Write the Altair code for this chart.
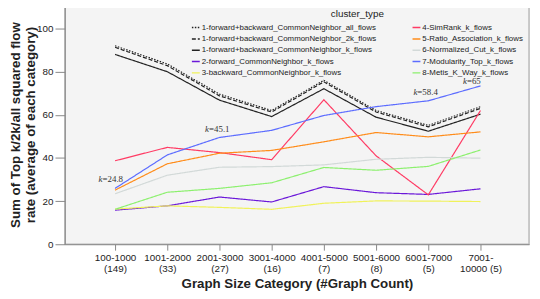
import json
import altair as alt
import pandas as pd

categories = [["100-1000", "(149)"], ["1001-2000", "(33)"], ["2001-3000", "(27)"],
              ["3001-4000", "(16)"], ["4001-5000", "(7)"], ["5001-6000", "(8)"],
              ["6001-7000", "(5)"], ["7001-", "10000 (5)"]]

series = [
    "1-forward+backward_CommonNeighbor_all_flows",
    "1-forward+backward_CommonNeighbor_2k_flows",
    "1-forward+backward_CommonNeighbor_k_flows",
    "2-forward_CommonNeighbor_k_flows",
    "3-backward_CommonNeighbor_k_flows",
    "4-SimRank_k_flows",
    "5-Ratio_Association_k_flows",
    "6-Normalized_Cut_k_flows",
    "7-Modularity_Top_k_flows",
    "8-Metis_K_Way_k_flows",
]

v_all = [92.0, 83.6, 69.6, 62.0, 76.0, 62.0, 55.1, 63.8]
v_2k = [91.3, 82.8, 68.8, 61.3, 75.3, 61.3, 54.4, 63.0]
v_k = [88.0, 80.0, 66.8, 59.2, 72.1, 58.9, 52.4, 60.3]
v_forward = [15.8, 17.8, 21.9, 19.6, 26.7, 23.9, 23.1, 25.7]
v_backward = [16.3, 17.8, 17.1, 16.2, 19.0, 20.1, 20.0, 19.8]
v_simrank = [38.7, 44.9, 42.5, 39.2, 67.0, 41.0, 22.9, 62.0]
v_ratio = [25.1, 37.3, 42.2, 43.5, 47.5, 51.8, 49.8, 52.1]
v_ncut = [23.4, 32.0, 35.7, 36.0, 36.8, 39.4, 40.3, 39.9]
v_modularity = [25.9, 41.4, 49.5, 52.8, 59.7, 63.8, 66.5, 73.4]
v_metis = [16.2, 24.1, 25.9, 28.5, 35.6, 34.3, 36.1, 43.7]

values = [v_all, v_2k, v_k, v_forward, v_backward, v_simrank, v_ratio, v_ncut,
          v_modularity, v_metis]

colors = ["#222222", "#222222", "#222222", "#6b18d9", "#f0f25a", "#ff3b64",
          "#ff8c1a", "#d2d9d8", "#5c6cff", "#8cf06e"]
dashes = [[1.5, 1.5], [4, 2], [1, 0], [1, 0], [1, 0], [1, 0], [1, 0], [1, 0],
          [1, 0], [1, 0]]

# annotations (k values)
ann_x = [-0.24, 1.80, 5.79, 6.74]
ann_y = [30.3, 53.3, 70.5, 75.7]
ann_val = ["=24.8", "=45.1", "=58.4", "=65"]

rows = []
for name, vals in zip(series, values):
    for i, v in enumerate(vals):
        rows.append({"idx": i, "value": v, "cluster_type": name})
df = pd.DataFrame(rows)

label_expr = json.dumps(categories) + "[datum.value]"

x_enc = alt.X("idx:Q", scale=alt.Scale(domain=[-0.962, 7.93], nice=False, zero=False),
              axis=alt.Axis(values=list(range(8)), labelExpr=label_expr,
                            title="Graph Size Category (#Graph Count)",
                            grid=False, tickSize=6, labelPadding=3,
                            labelLineHeight=11, titlePadding=3))
y_enc = alt.Y("value:Q", scale=alt.Scale(domain=[0, 110.96], nice=False),
              axis=alt.Axis(values=[0, 20, 40, 60, 80, 100], grid=False, tickSize=10,
                            labelPadding=2,
                            title=["Sum of Top k/2k/all squared flow",
                                   "rate (average of each category)"],
                            titleLineHeight=15, titlePadding=-1))

leg = alt.Legend(title="\u00a0" * 9 + "cluster_type", orient="none",
                 legendX=128, legendY=4,
                 columns=2, columnPadding=33, rowPadding=2.5,
                 symbolType="stroke", symbolSize=64, symbolStrokeWidth=1.5,
                 labelFontSize=8, labelOffset=1, labelLimit=300,
                 titleFontSize=10, titleFontWeight="normal",
                 titleAnchor="middle", titlePadding=4,
                 labelColor="#222", titleColor="#222")

lines = alt.Chart(df).mark_line(strokeWidth=1.2).encode(
    x=x_enc,
    y=y_enc,
    color=alt.Color("cluster_type:N", scale=alt.Scale(domain=series, range=colors),
                    legend=leg),
    strokeDash=alt.StrokeDash("cluster_type:N",
                              scale=alt.Scale(domain=series, range=dashes),
                              legend=leg),
    detail="cluster_type:N",
)

ann_df = pd.DataFrame({"x": ann_x, "y": ann_y, "val": ann_val})
ann_k = alt.Chart(ann_df).mark_text(text="k", align="right", baseline="middle",
                                    font="Liberation Serif", fontStyle="italic",
                                    fontSize=9, color="#333").encode(
    x="x:Q", y="y:Q")
ann_v = alt.Chart(ann_df).mark_text(align="left", baseline="middle",
                                    font="Liberation Serif", fontSize=9,
                                    color="#333").encode(
    x="x:Q", y="y:Q", text="val:N")

chart = alt.layer(lines, ann_k, ann_v).properties(
    width=471.3, height=243,
    autosize=alt.AutoSizeParams(type="none"),
    padding={"left": 57.7, "top": -5.3, "right": 3, "bottom": 46},
).configure(font="Liberation Sans").configure_view(
    fill="#f4f4f4", stroke="#b8b8b8", strokeWidth=1.5
).configure_axis(
    domainColor="#888888", tickColor="#888888", labelFontSize=10,
    labelColor="#222222", titleFontSize=13.5, titleFontWeight="bold",
    titleColor="#222222", labelFont="Liberation Sans", titleFont="Liberation Sans"
)

chart.save("out.html", embed_options={"renderer": "svg", "actions": False})
